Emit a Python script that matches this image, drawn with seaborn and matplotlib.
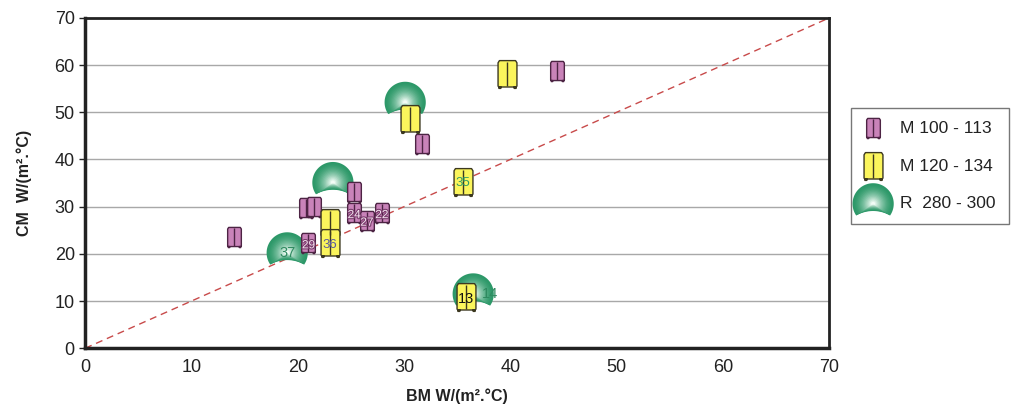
import numpy as np
import pandas as pd
import matplotlib
matplotlib.use("Agg")
import matplotlib.pyplot as plt
import seaborn as sns
from matplotlib.path import Path
from matplotlib.markers import MarkerStyle
from matplotlib.legend_handler import HandlerTuple
import matplotlib.patheffects as pe

# ---------------- data ----------------
m100_x = [14.0, 44.4, 31.7, 25.3, 20.8, 21.5, 25.3, 26.5, 27.9, 21.0]
m100_y = [23.5, 58.7, 43.2, 33.0, 29.8, 29.9, 28.6, 27.0, 28.6, 22.2]
m100_lab = ["", "", "", "", "", "", "24", "27", "22", "29"]

m120_x = [23.0, 23.0, 30.6, 39.7, 35.5, 35.8]
m120_y = [26.6, 22.2, 48.5, 58.1, 35.3, 10.8]
m120_lab = ["", "36", "", "", "35", "13"]

r280_x = [23.3, 19.0, 30.1, 36.5]
r280_y = [35.1, 20.2, 52.1, 11.5]
r280_lab = ["", "37", "", "14"]

legend_labels = ["M 100 - 113", "M 120 - 134", "R  280 - 300"]
ticks = [0, 10, 20, 30, 40, 50, 60, 70]

# ---------------- styling ----------------
sns.set_theme(style="white")
plt.rcParams["font.family"] = ["Liberation Sans", "DejaVu Sans"]

fig = plt.figure(figsize=(10.15, 4.16), dpi=100)
ax = fig.add_axes([0.084, 0.163, 0.733, 0.794])

# marker shapes
def cabinet_path():
    w = 0.34
    body = [(-w, -0.42), (-w, 0.42), (-w + 0.05, 0.5), (w - 0.05, 0.5), (w, 0.42),
            (w, -0.42), (w - 0.04, -0.45), (-w + 0.04, -0.45), (-w, -0.42)]
    foot_l = [(-w + 0.03, -0.45), (-w + 0.03, -0.5), (-w + 0.1, -0.5), (-w + 0.1, -0.45), (-w + 0.03, -0.45)]
    foot_r = [(w - 0.1, -0.45), (w - 0.1, -0.5), (w - 0.03, -0.5), (w - 0.03, -0.45), (w - 0.1, -0.45)]
    verts, codes = [], []
    for poly in (body, foot_l, foot_r):
        verts += poly
        codes += [Path.MOVETO] + [Path.LINETO] * (len(poly) - 2) + [Path.CLOSEPOLY]
    return Path(verts, codes)

def sphere_path():
    c, r = 1.988, 1.638
    a0 = np.arctan2(-0.57, 0.82)
    a1 = np.arctan2(-0.57, -0.82) + 2 * np.pi
    t = np.linspace(a0, a1, 80)
    outer = np.column_stack([np.cos(t), np.sin(t)])
    b0 = np.arctan2(-0.57 + c, -0.82)
    b1 = np.arctan2(-0.57 + c, 0.82)
    tb = np.linspace(b0, b1, 30)
    bite = np.column_stack([r * np.cos(tb), -c + r * np.sin(tb)])
    verts = np.vstack([outer, bite, outer[:1]])
    codes = [Path.MOVETO] + [Path.LINETO] * (len(verts) - 2) + [Path.CLOSEPOLY]
    return Path(verts, codes)

cab = MarkerStyle(cabinet_path())
sph = MarkerStyle(sphere_path())

grid_c = "#a8a8a8"
for t in ticks[1:-1]:
    ax.axhline(t, color=grid_c, lw=1.0, zorder=0)

ax.plot([0, 70], [0, 70], ls=(0, (5, 3.5)), color="#c84a4a", lw=1.0, zorder=1)

df_r = pd.DataFrame({"x": r280_x, "y": r280_y})
df_p = pd.DataFrame({"x": m100_x, "y": m100_y})
df_y = pd.DataFrame({"x": m120_x, "y": m120_y})

S_SPH, S_P, S_Y = 880, 210, 400

# green spheres with layered radial gradient
dark = np.array([0x2c, 0x98, 0x68]) / 255
light = np.array([0xf2, 0xfc, 0xf6]) / 255
n_layers = 16
sph_handles = []
for i in range(n_layers):
    f = i / (n_layers - 1)
    k = 1.0 - 0.9 * f
    col = dark + (light - dark) * (f ** 1.6)
    sns.scatterplot(data=df_r, x="x", y="y", marker=sph, s=S_SPH * k * k, color=tuple(col),
                    edgecolor="none", linewidth=0, ax=ax, zorder=2, legend=False)
    sph_handles.append(ax.collections[-1])

def cabinets(df, s, face, edge, z):
    sns.scatterplot(data=df, x="x", y="y", marker=cab, s=s, color=face,
                    edgecolor=edge, linewidth=1.0, ax=ax, zorder=z, legend=False)
    h1 = ax.collections[-1]
    sns.scatterplot(data=df, x="x", y="y", marker="|", s=s * 0.8, color=edge,
                    linewidth=1.0, ax=ax, zorder=z + 0.1, legend=False)
    h2 = ax.collections[-1]
    return h1, h2

p_h = cabinets(df_p, S_P, "#c983b9", "#4d2444", 3)
y_h = cabinets(df_y, S_Y, "#fbf55c", "#3c3820", 4)

# numeric labels
purple_fx = [pe.withStroke(linewidth=1.6, foreground="#7a3c6c")]
for x, y, lab in zip(m100_x, m100_y, m100_lab):
    if lab:
        ax.text(x, y - 0.4, lab, ha="center", va="center", fontsize=8.5,
                color="#f6e3f1", path_effects=purple_fx, zorder=6)
y_colors = {"36": "#5a5aa0", "35": "#2f9a66", "13": "#111111"}
y_sizes = {"36": 9.5, "35": 9.5, "13": 10.5}
for x, y, lab in zip(m120_x, m120_y, m120_lab):
    if lab:
        ax.text(x, y - 0.3, lab, ha="center", va="center", fontsize=y_sizes[lab],
                color=y_colors[lab], zorder=6)
r_offsets = {"37": (0, 0), "14": (12, 0)}
for x, y, lab in zip(r280_x, r280_y, r280_lab):
    if lab:
        ax.annotate(lab, (x, y), xytext=r_offsets[lab], textcoords="offset points",
                    ha="center", va="center", fontsize=10.5, color="#2f8a60", zorder=6)

# axes
ax.set_xlim(0, 70)
ax.set_ylim(0, 70)
ax.set_xticks(ticks)
ax.set_yticks(ticks)
ax.tick_params(axis="both", labelsize=13, colors="#222222")
ax.tick_params(axis="y", length=4, width=1, direction="out", left=True, color="#222222")
ax.tick_params(axis="x", length=0, pad=8)
for sp in ax.spines.values():
    sp.set_visible(True)
    sp.set_color("#222222")
ax.spines["left"].set_linewidth(2.5)
ax.spines["bottom"].set_linewidth(2.5)
ax.spines["top"].set_linewidth(2.0)
ax.spines["right"].set_linewidth(2.0)
ax.set_xlabel("BM W/(m².°C)", fontsize=11.5, fontweight="bold", color="#222222", labelpad=9)
ax.set_ylabel("CM  W/(m².°C)", fontsize=11.5, fontweight="bold", color="#222222", labelpad=16)

# legend
handles = [tuple(p_h), tuple(y_h), tuple(sph_handles)]
leg = fig.legend(handles, legend_labels, loc="upper left", bbox_to_anchor=(0.838, 0.741),
                 bbox_transform=fig.transFigure, borderaxespad=0,
                 handler_map={tuple: HandlerTuple(ndivide=1, pad=0)},
                 fontsize=12.5, frameon=True, fancybox=False, edgecolor="#555555",
                 labelspacing=1.3, handletextpad=1.0, borderpad=0.75, handlelength=1.1,
                 scatterpoints=1)
leg.get_frame().set_linewidth(1.0)
for t in leg.get_texts():
    t.set_color("#222222")

fig.savefig("out.png", dpi=100)
